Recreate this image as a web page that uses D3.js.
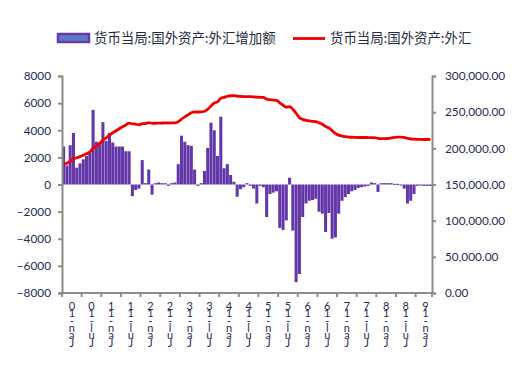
<!DOCTYPE html>
<html><head><meta charset="utf-8">
<script src="https://cdn.jsdelivr.net/npm/d3@7"></script>
<style>
html,body{margin:0;padding:0;background:#fff;}
svg{display:block;}
</style>
</head><body>
<svg id="chart" width="527" height="371"></svg>
<script>
// ---- DATA ----
const startYear = 2010;
const months = d3.range(113).map(i => `${startYear + Math.floor(i / 12)}-${String(i % 12 + 1).padStart(2, "0")}`);

const fxIncrease = [
  2800, 1400, 2900, 3800, 1240, 1560, 1860, 2100, 2300, 5500, 3160, 3000,
  4600, 3200, 3800, 3100, 2800, 2800, 2800, 2450, 2450, -860, -400, -300,
  1800, 100, 1100, -750, 100, 150, 100, 100, -100, 100, 150, 1500,
  3600, 3150, 2900, 2850, 1100, -100, 100, 1000, 2700, 4560, 4000, 2100,
  5000, 1200, 1500, 700, 200, -900, -350, -200, 100, -100, -300, -1400,
  -100, -200, -2400, -700, -600, -500, -3200, -3350, -2650, 500, -3400, -7200,
  -6600, -2400, -1400, -1200, -1150, -1050, -2000, -2150, -3500, -2100, -4000, -3900,
  -2150, -1200, -930, -700, -500, -400, -250, -200, -150, -100, 150, 100,
  -550, 100, 100, 100, 100, 50, 50, 0, -300, -1400, -1200, -700,
  -100, -50, -100, -100, -100
];

const fxHoldings = [
  177900, 179500, 182000, 185700, 187000, 188500, 190400, 192500, 194800, 200300, 203500, 206800,
  211400, 214600, 218400, 221500, 224300, 227100, 229900, 232300, 234800, 233900, 233500, 232400,
  234200, 234300, 235400, 234600, 234700, 234900, 235000, 235100, 235000, 235100, 235200, 236700,
  240300, 243400, 246300, 249200, 250300, 250200, 250300, 251300, 254000, 258600, 262600, 264300,
  269300, 270500, 272000, 272700, 272900, 272000, 271700, 271500, 271600, 271500, 271200, 270700,
  270600, 270400, 268000, 267300, 266700, 266200, 263000, 259600, 257000, 257500, 254100, 248500,
  242300, 240000, 238800, 238000, 237400, 236800, 235200, 233400, 230300, 228200, 224400, 220500,
  218200, 217000, 216200, 215600, 215300, 215100, 215000, 215000, 215000, 214900, 214900, 214800,
  213800, 213400, 213400, 213600, 214300, 215200, 215500, 215400, 215000, 213700, 212900, 212600,
  212500, 212300, 212200, 212200, 212300
];

const leftTicks = [-8000, -6000, -4000, -2000, 0, 2000, 4000, 6000, 8000];
const rightTicks = [0, 50000, 100000, 150000, 200000, 250000, 300000];
const xTickLabels = ["Jan-10","Jul-10","Jan-11","Jul-11","Jan-12","Jul-12","Jan-13","Jul-13","Jan-14","Jul-14",
                     "Jan-15","Jul-15","Jan-16","Jul-16","Jan-17","Jul-17","Jan-18","Jul-18","Jan-19"];
const seriesNames = ["货币当局:国外资产:外汇增加额", "货币当局:国外资产:外汇"];

// ---- LAYOUT ----
const L = 62, R = 432, T = 76, B = 293;
const barColor = "#6437a8", lineColor = "#f00000", axisColor = "#8c8c8c", textColor = "#1f2b56";
const svg = d3.select("#chart");

const x = d3.scaleBand().domain(months).range([L, R]).paddingInner(0.07).paddingOuter(0.03);
const yL = d3.scaleLinear().domain([-8000, 8000]).range([B, T]);
const yR = d3.scaleLinear().domain([0, 300000]).range([B, T]);

// bars
svg.append("g").selectAll("rect").data(fxIncrease).join("rect")
  .attr("x", (d, i) => x(months[i]))
  .attr("width", x.bandwidth())
  .attr("y", d => Math.min(yL(d), yL(0)))
  .attr("height", d => Math.max(1, Math.abs(yL(d) - yL(0))))
  .attr("fill", barColor);

// line
const line = d3.line().x((d, i) => x(months[i]) + x.bandwidth() / 2).y(d => yR(d)).curve(d3.curveMonotoneX);
svg.append("path").datum(fxHoldings).attr("d", line)
  .attr("fill", "none").attr("stroke", lineColor).attr("stroke-width", 2.8).attr("stroke-linejoin", "round");

// left axis
const axL = svg.append("g").attr("transform", `translate(${L},0)`)
  .call(d3.axisLeft(yL).tickValues(leftTicks).tickSize(4).tickPadding(7).tickFormat(d3.format("d")));
// right axis
const axR = svg.append("g").attr("transform", `translate(${R},0)`)
  .call(d3.axisRight(yR).tickValues(rightTicks).tickSize(4).tickPadding(9).tickFormat(d3.format(",.2f")));
[axL, axR].forEach(g => {
  g.select(".domain").attr("stroke", axisColor).attr("stroke-width", 2);
  g.selectAll(".tick line").attr("stroke", axisColor).attr("stroke-width", 2);
  g.selectAll(".tick text").attr("fill", textColor).attr("font-family", "Lato, 'Liberation Sans', sans-serif").attr("font-size", "11.8px");
});

// bottom axis
const groupW = (R - L) * 6 / 113;
const xTickPos = d3.scaleLinear().domain([0, 113]).range([L, R]);
const axB = svg.append("g");
axB.append("line").attr("x1", L - 2).attr("x2", R + 1).attr("y1", B).attr("y2", B).attr("stroke", axisColor).attr("stroke-width", 2);
axB.selectAll("line.t").data(d3.range(0, 113, 6).concat([113])).join("line").attr("class", "t")
  .attr("x1", d => xTickPos(d)).attr("x2", d => xTickPos(d)).attr("y1", B).attr("y2", B + 4)
  .attr("stroke", axisColor).attr("stroke-width", 2);
const lab = axB.selectAll("text").data(xTickLabels).join("text")
  .attr("fill", textColor).attr("font-family", "Lato, 'Liberation Sans', sans-serif").attr("font-size", "11px")
  .attr("text-anchor", "middle");
lab.each(function(d, k) {
  const cx = xTickPos(k * 6) + groupW / 2;
  const chars = d.split("").reverse();
  d3.select(this).selectAll("tspan").data(chars).join("tspan")
    .attr("x", cx).attr("y", (c, j) => 310 + j * 7.3).text(c => c);
});

// legend
const lg = svg.append("g").attr("font-family", "'Noto Sans CJK SC', sans-serif").attr("font-size", "13.4px").attr("fill", "#222a40");
lg.append("rect").attr("x", 58).attr("y", 34).attr("width", 31).attr("height", 8)
  .attr("fill", "#5a7cc0").attr("stroke", "#6a3aa8").attr("stroke-width", 2.5);
lg.append("text").attr("x", 94).attr("y", 43).text(seriesNames[0]);
lg.append("line").attr("x1", 293).attr("x2", 325).attr("y1", 38.5).attr("y2", 38.5).attr("stroke", lineColor).attr("stroke-width", 2.8);
lg.append("text").attr("x", 330).attr("y", 43).text(seriesNames[1]);
</script>
</body></html>
